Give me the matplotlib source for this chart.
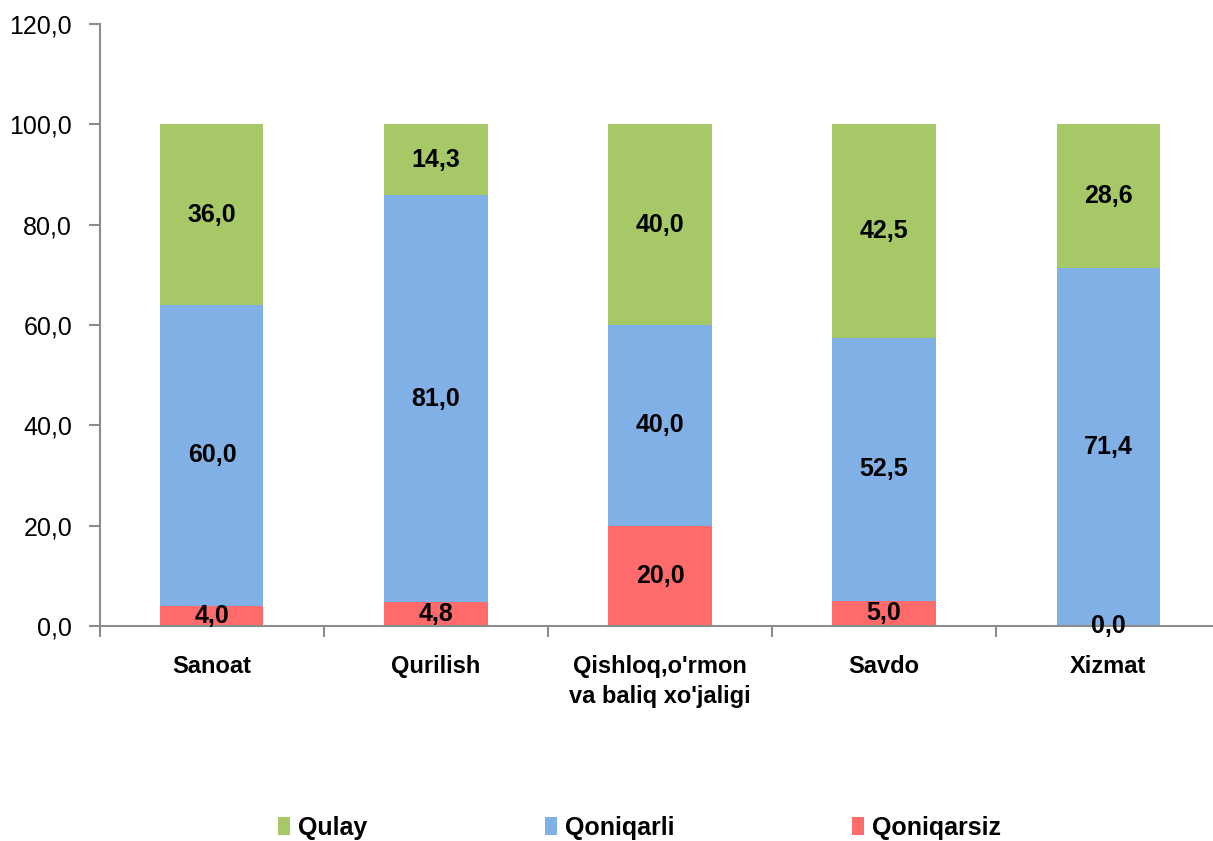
import numpy as np
import matplotlib.pyplot as plt

plt.rcParams["font.family"] = ["Liberation Sans", "DejaVu Sans"]

CATEGORIES = ["Sanoat", "Qurilish", "Qishloq,o'rmon\nva baliq xo'jaligi", "Savdo", "Xizmat"]
QONIQARSIZ = [4.0, 4.8, 20.0, 5.0, 0.0]
QONIQARLI = [60.0, 81.0, 40.0, 52.5, 71.4]
QULAY = [36.0, 14.3, 40.0, 42.5, 28.6]
Y_TICKS = [0, 20, 40, 60, 80, 100, 120]

GREEN = "#a6c866"
BLUE = "#80b0e5"
RED = "#ff6b6b"
AXIS = "#8c8c8c"


def fmt(v):
    return f"{v:.1f}".replace(".", ",")


fig = plt.figure(figsize=(12.13, 8.41), dpi=100)
ax = fig.add_axes([0.0824, 0.2556, 0.9234, 0.716])

x = np.arange(len(CATEGORIES))
w = 0.46
bottom = np.zeros(len(x))
series = [("Qoniqarsiz", QONIQARSIZ, RED),
          ("Qoniqarli", QONIQARLI, BLUE),
          ("Qulay", QULAY, GREEN)]
handles = {}
for name, vals, color in series:
    vals = np.array(vals)
    h = ax.bar(x, vals, w, bottom=bottom, color=color, label=name, zorder=2)
    handles[name] = h
    for xi, b, v in zip(x, bottom, vals):
        ax.text(xi, b + v / 2, fmt(v), ha="center", va="center",
                fontsize=18, fontweight="bold", zorder=3)
    bottom += vals

ax.set_xlim(-0.5, len(x) - 0.5)
ax.set_ylim(0, 120)
ax.set_yticks(Y_TICKS)
ax.set_yticklabels([fmt(t) for t in Y_TICKS], fontsize=18)
ax.tick_params(axis="y", length=8, width=1.5, color=AXIS, pad=12)

ax.set_xticks(x)
ax.set_xticklabels(CATEGORIES, fontsize=17, fontweight="bold", va="top",
                   linespacing=1.35)
ax.tick_params(axis="x", which="major", length=0, pad=21)
ax.set_xticks(np.arange(len(x) + 1) - 0.5, minor=True)
ax.tick_params(axis="x", which="minor", length=8, width=1.5, color=AXIS)

for s in ("top", "right"):
    ax.spines[s].set_visible(False)
for s in ("left", "bottom"):
    ax.spines[s].set_color(AXIS)
    ax.spines[s].set_linewidth(1.5)

order = ["Qulay", "Qoniqarli", "Qoniqarsiz"]
leg = fig.legend([handles[k] for k in order], order, loc="center",
                 bbox_to_anchor=(0.527, 0.0155), ncol=3, frameon=False,
                 prop={"size": 18, "weight": "bold"}, handlelength=0.5,
                 handleheight=0.7, handletextpad=0.3, columnspacing=7.1)

fig.savefig("out.png", dpi=100)
